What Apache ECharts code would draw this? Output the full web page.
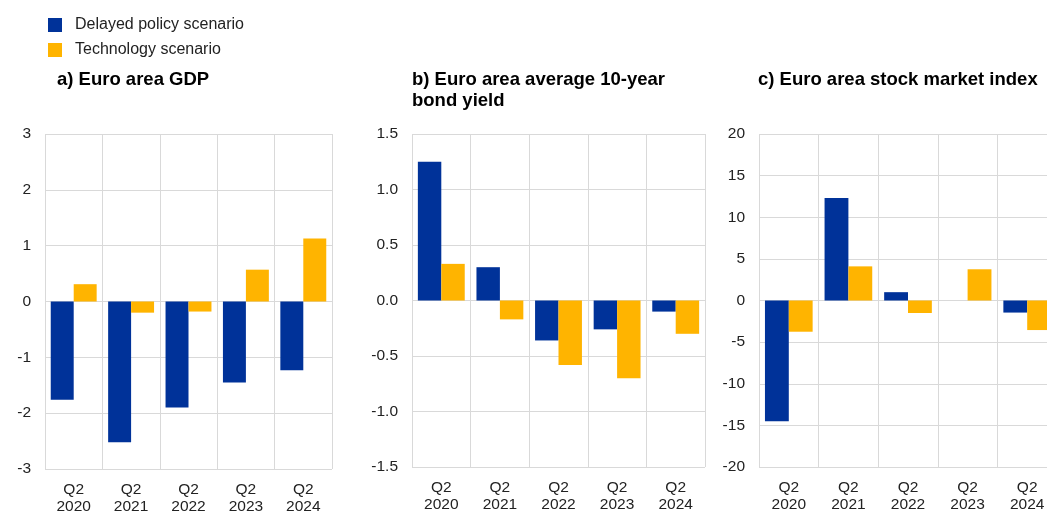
<!DOCTYPE html>
<html><head><meta charset="utf-8">
<script src="https://cdn.jsdelivr.net/npm/echarts@6/dist/echarts.min.js"></script>
<style>html,body{margin:0;padding:0;background:#fff}#c{width:1047px;height:511px}</style>
</head><body><div id="c"></div>
<script>
const categories = ['Q2\n2020','Q2\n2021','Q2\n2022','Q2\n2023','Q2\n2024'];
const seriesNames = ['Delayed policy scenario','Technology scenario'];
const gdpDelayed = [-1.76,-2.52,-1.90,-1.45,-1.23];
const gdpTech = [0.31,-0.20,-0.18,0.57,1.13];
const bondDelayed = [1.25,0.30,-0.36,-0.26,-0.10];
const bondTech = [0.33,-0.17,-0.58,-0.70,-0.30];
const stockDelayed = [-14.5,12.3,1.0,0,-1.45];
const stockTech = [-3.75,4.1,-1.5,3.75,-3.55];
const titles = ['a) Euro area GDP','b) Euro area average 10-year\nbond yield','c) Euro area stock market index'];
const yMin = [-3,-1.5,-20], yMax = [3,1.5,20], yInt = [1,0.5,5];

const colors = ['#003299','#FFB400'];
const font = '"Liberation Sans", Arial, sans-serif';
const grids = [
  {left:45, top:134, width:287, height:335, outerBoundsMode:'none', containLabel:false},
  {left:412, top:134, width:293, height:333, outerBoundsMode:'none', containLabel:false},
  {left:759, top:134, width:298, height:333, outerBoundsMode:'none', containLabel:false}
];
const dataSets = [[gdpDelayed,gdpTech],[bondDelayed,bondTech],[stockDelayed,stockTech]];
const titleLeft = [52, 407, 753];
const opt = {
  animation:false,
  color:colors,
  textStyle:{fontFamily:font},
  legend:{
    orient:'vertical', left:43, top:12, itemWidth:14, itemHeight:14, itemGap:9,
    icon:'rect',
    textStyle:{fontSize:16, lineHeight:14, color:'#222', fontFamily:font, padding:[0,0,0,8]},
    data:seriesNames
  },
  title: titles.map((t,i)=>({text:t, left:titleLeft[i], top:64,
    textStyle:{fontSize:18.5, fontWeight:'bold', color:'#000', fontFamily:font, lineHeight:21}})),
  grid: grids,
  xAxis: grids.map((g,i)=>({type:'category', gridIndex:i, data:categories,
    axisLine:{show:false, onZero:false}, axisTick:{show:false},
    splitLine:{show:true, lineStyle:{color:'#d9d9d9', width:1}},
    axisLabel:{fontSize:15.5, color:'#222', fontFamily:font, margin:12, lineHeight:17, interval:0}})),
  yAxis: grids.map((g,i)=>({type:'value', gridIndex:i, min:yMin[i], max:yMax[i], interval:yInt[i],
    axisLine:{show:false}, axisTick:{show:false},
    splitLine:{lineStyle:{color:'#d9d9d9', width:1}},
    axisLabel:{fontSize:15.5, color:'#222', fontFamily:font, margin:14,
      formatter: v => i===1 ? v.toFixed(1) : String(v)}})),
  series: []
};
dataSets.forEach((ds,i)=>{
  ds.forEach((d,j)=>{
    opt.series.push({name:seriesNames[j], type:'bar', xAxisIndex:i, yAxisIndex:i, data:d,
      barGap:'0%', barCategoryGap:'20%', itemStyle:{color:colors[j]}});
  });
});
const chart = echarts.init(document.getElementById('c'), null, {renderer:'canvas'});
chart.setOption(opt);
</script></body></html>
